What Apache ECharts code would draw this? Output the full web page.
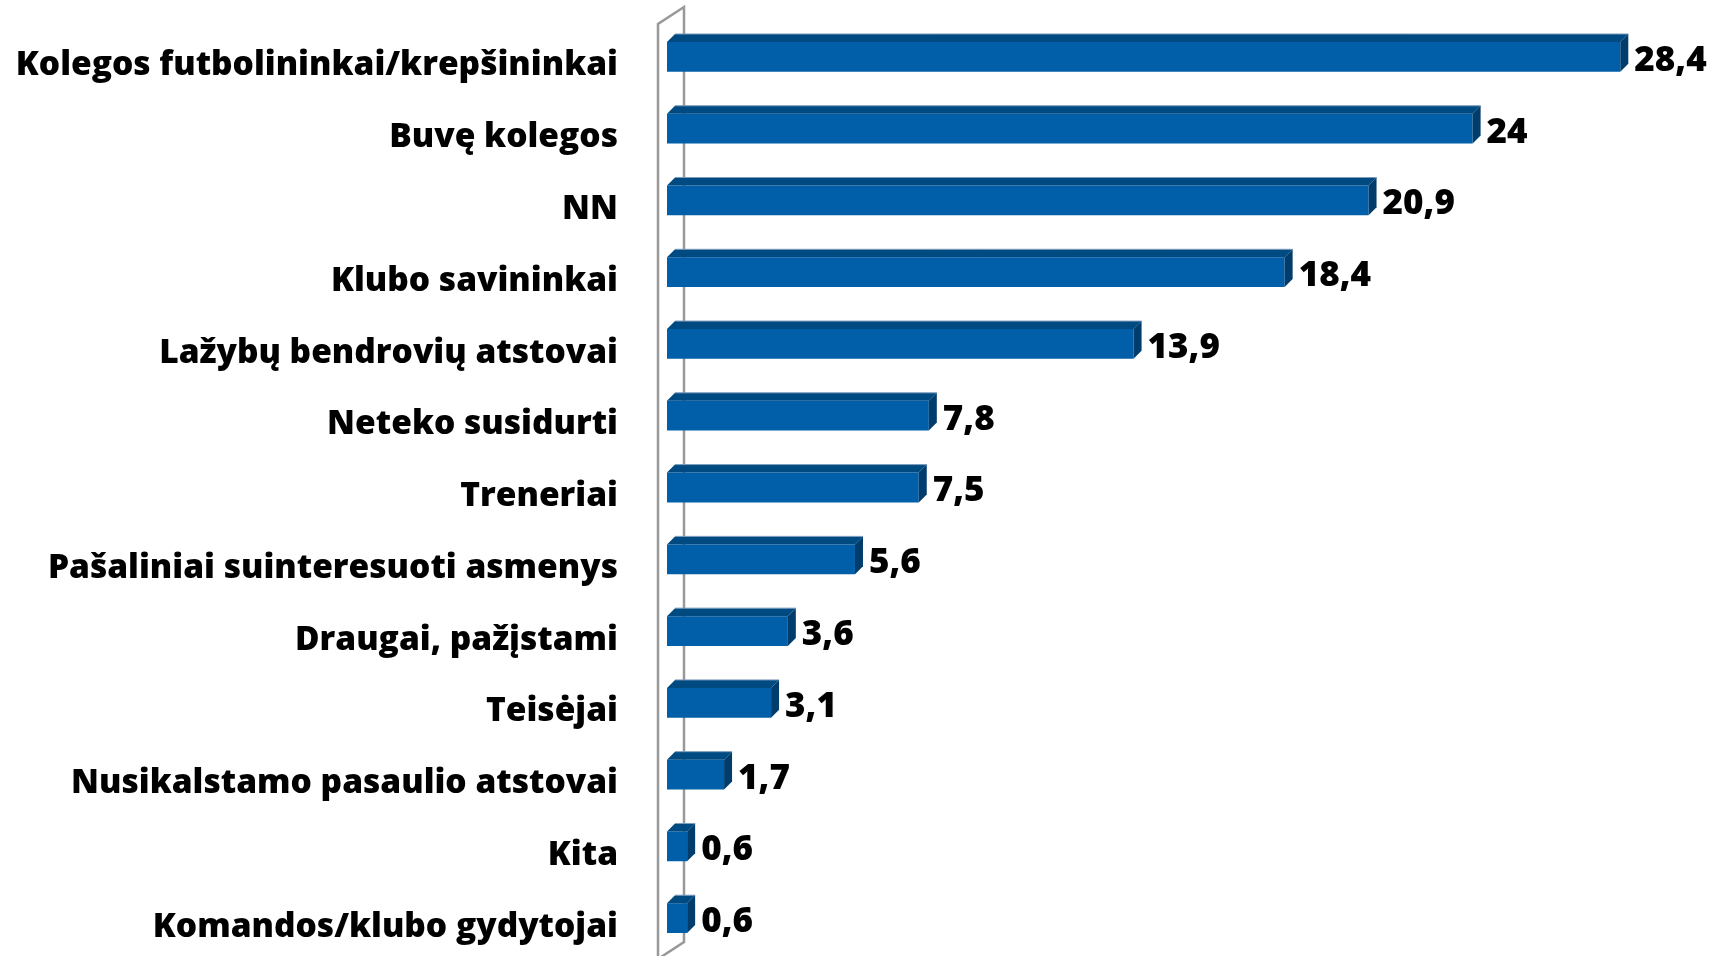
<!DOCTYPE html>
<html>
<head>
<meta charset="utf-8">
<script src="https://cdn.jsdelivr.net/npm/echarts@6/dist/echarts.min.js"></script>
<style>
html,body{margin:0;padding:0;background:#fff;}
#chart{width:1725px;height:956px;}
</style>
</head>
<body>
<div id="chart"></div>
<script>
const categories = [
  "Kolegos futbolininkai/krepšininkai",
  "Buvę kolegos",
  "NN",
  "Klubo savininkai",
  "Lažybų bendrovių atstovai",
  "Neteko susidurti",
  "Treneriai",
  "Pašaliniai suinteresuoti asmenys",
  "Draugai, pažįstami",
  "Teisėjai",
  "Nusikalstamo pasaulio atstovai",
  "Kita",
  "Komandos/klubo gydytojai"
];
const values = [28.4, 24, 20.9, 18.4, 13.9, 7.8, 7.5, 5.6, 3.6, 3.1, 1.7, 0.6, 0.6];

const FONT = '"Open Sans"';
const chart = echarts.init(document.getElementById('chart'), null, {renderer: 'canvas'});

function renderItem(params, api) {
  const cat = api.value(1);
  const val = api.value(0);
  const start = api.coord([0, cat]);
  const end = api.coord([val, cat]);
  const band = api.size([0, 1])[1];
  const h = band * 0.415;
  const d = 8;
  const x0 = start[0], x1 = end[0];
  const yT = start[1] - h / 2, yB = start[1] + h / 2;
  const children = [];
  if (params.dataIndex === 0) {
    const cs = params.coordSys;
    const gx = cs.x, gy = cs.y, gb = cs.y + cs.height;
    children.push({
      type: 'polyline', silent: true,
      shape: {points: [[gx - 9, gb + 6], [gx - 9, gy + 3], [gx + 17, gy - 14], [gx + 17, gb - 12], [gx - 9, gb + 5]]},
      style: {stroke: '#999999', lineWidth: 2.5, fill: null}
    });
  }
  children.push({
    type: 'rect', shape: {x: x0, y: yT, width: x1 - x0, height: h},
    style: {fill: '#005FA8'}
  });
  children.push({
    type: 'polygon', shape: {points: [[x0, yT], [x0 + d, yT - d], [x1 + d, yT - d], [x1, yT]]},
    style: {fill: '#004A82'}
  });
  children.push({
    type: 'polyline', shape: {points: [[x0 + d, yT - d], [x1 + d, yT - d]]},
    style: {stroke: '#7d9cbc', lineWidth: 1, fill: null}
  });
  children.push({
    type: 'polygon', shape: {points: [[x1, yT], [x1 + d, yT - d], [x1 + d, yB - d], [x1, yB]]},
    style: {fill: '#003D6C'}
  });
  children.push({
    type: 'text',
    style: {
      x: x1 + d + 6, y: start[1] + 4,
      text: String(val).replace('.', ','),
      fill: '#000', font: '800 35px ' + FONT,
      verticalAlign: 'middle', align: 'left'
    }
  });
  return {type: 'group', children: children};
}

chart.setOption({
  animation: false,
  backgroundColor: '#fff',
  grid: {left: 667, right: 51, top: 21, bottom: 2, containLabel: false, outerBoundsMode: 'none'},
  xAxis: {type: 'value', min: 0, max: 30, show: false},
  yAxis: {
    type: 'category', data: categories, inverse: true,
    axisLine: {show: false}, axisTick: {show: false}, splitLine: {show: false},
    axisLabel: {
      margin: 49, color: '#000', fontFamily: 'Open Sans', fontWeight: 800, fontSize: 33.5,
      verticalAlign: 'top', lineHeight: 18
    }
  },
  series: [{
    type: 'custom',
    renderItem: renderItem,
    encode: {x: 0, y: 1},
    clip: false,
    data: values.map((v, i) => [v, i])
  }]
});
</script>
</body>
</html>
